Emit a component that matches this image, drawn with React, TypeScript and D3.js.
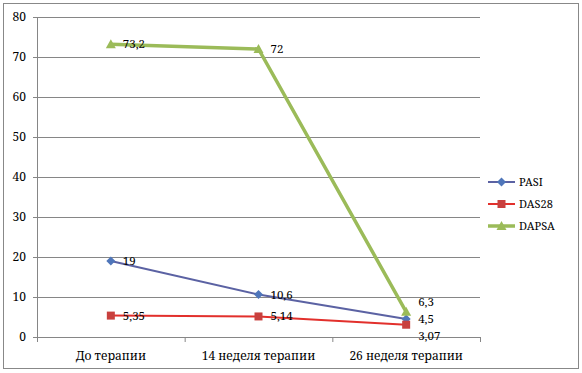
import React from 'react';
import * as d3 from 'd3';

const categories = ['До терапии', '14 неделя терапии', '26 неделя терапии'];
const pasi = [19, 10.6, 4.5];
const das28 = [5.35, 5.14, 3.07];
const dapsa = [73.2, 72, 6.3];
const yTicks = [0, 10, 20, 30, 40, 50, 60, 70, 80];

const series = [
  { name: 'PASI', values: pasi, color: '#5B62A3', marker: '#4F76BA', width: 2, shape: 'diamond' },
  { name: 'DAS28', values: das28, color: '#E2302C', marker: '#C8403E', width: 2, shape: 'square' },
  { name: 'DAPSA', values: dapsa, color: '#9BBB59', marker: '#9BBB59', width: 3.5, shape: 'triangle' },
];

const FONT = 'Noto Serif';
const fmt = (v: number) => String(v).replace('.', ',');

function Marker({ shape, x, y, fill }: { shape: string; x: number; y: number; fill: string }) {
  if (shape === 'diamond') {
    return <path d={`M${x},${y - 4.5}L${x + 4.5},${y}L${x},${y + 4.5}L${x - 4.5},${y}Z`} fill={fill} />;
  }
  if (shape === 'square') {
    return <rect x={x - 4} y={y - 4} width={8} height={8} fill={fill} />;
  }
  return <path d={`M${x},${y - 5}L${x + 5},${y + 4}L${x - 5},${y + 4}Z`} fill={fill} />;
}

export default function App() {
  const left = 37, right = 480, top = 17, bottom = 337;
  const x = d3.scaleBand<string>().domain(categories).range([left, right]);
  const y = d3.scaleLinear().domain([0, 80]).range([bottom, top]);
  const cx = (c: string) => (x(c) as number) + x.bandwidth() / 2;
  const line = d3.line<number>().x((_, i) => cx(categories[i])).y(d => y(d));

  // label offsets at last point to avoid overlap
  const lastDy: Record<string, number> = { PASI: 0, DAS28: 11, DAPSA: -10 };

  return (
    <svg width={582} height={373} style={{ position: 'absolute', left: 0, top: 0 }}>
      <rect x={3.5} y={3.5} width={575} height={365} fill="#fff" stroke="#888" strokeWidth={1} />
      {yTicks.map(t => (
        <g key={t}>
          <line x1={left - 4} x2={right} y1={y(t) + 0.5} y2={y(t) + 0.5} stroke="#868686" strokeWidth={1} />
          <text x={26} y={y(t)} dy="0.35em" textAnchor="end" fontSize={12} fontFamily={FONT} fill="#000">{t}</text>
        </g>
      ))}
      <line x1={left + 0.5} x2={left + 0.5} y1={top} y2={bottom} stroke="#868686" />
      {[...categories.map(c => x(c) as number), right].map((tx, i) => (
        <line key={i} x1={tx + 0.5} x2={tx + 0.5} y1={bottom} y2={bottom + 5} stroke="#868686" />
      ))}
      {categories.map(c => (
        <text key={c} x={cx(c)} y={bottom + 23} textAnchor="middle" fontSize={12} fontFamily={FONT} fill="#000">{c}</text>
      ))}
      {series.map(s => (
        <g key={s.name}>
          <path d={line(s.values) || ''} fill="none" stroke={s.color} strokeWidth={s.width} />
          {s.values.map((v, i) => (
            <Marker key={i} shape={s.shape} x={cx(categories[i])} y={y(v)} fill={s.marker} />
          ))}
          {s.values.map((v, i) => (
            <text key={'l' + i} x={cx(categories[i]) + 12} y={y(v) + (i === 2 ? lastDy[s.name] : 0)} dy="0.35em" fontSize={11.5} fontFamily={FONT} fill="#000">{fmt(v)}</text>
          ))}
        </g>
      ))}
      {series.map((s, i) => {
        const ly = 182 + i * 22;
        return (
          <g key={'lg' + s.name}>
            <line x1={488} x2={515} y1={ly} y2={ly} stroke={s.color} strokeWidth={s.width} />
            <Marker shape={s.shape} x={501.5} y={ly} fill={s.marker} />
            <text x={519} y={ly} dy="0.35em" fontSize={11} fontFamily={FONT} fill="#000">{s.name}</text>
          </g>
        );
      })}
    </svg>
  );
}
